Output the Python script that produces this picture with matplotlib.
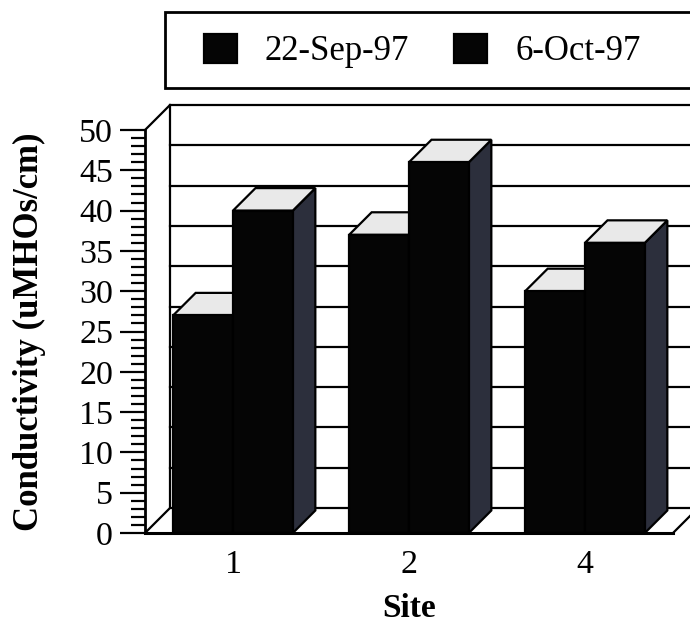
import numpy as np
import matplotlib
matplotlib.use("Agg")
import matplotlib.pyplot as plt
from matplotlib.patches import Rectangle, Polygon

plt.rcParams['font.family'] = ['Liberation Serif', 'DejaVu Serif']

sites = ["1", "2", "4"]
series_names = ["22-Sep-97", "6-Oct-97"]
sep_22 = [27, 37, 30]
oct_6 = [40, 46, 36]

W, H, DPI = 690, 627, 100
fig = plt.figure(figsize=(W / DPI, H / DPI), dpi=DPI)
# front plane of the 3d box, in pixels
left_px, right_px, bottom_px, top_px = 145, 673, 533, 130
ax = fig.add_axes([left_px / W, 1 - bottom_px / H,
                   (right_px - left_px) / W, (bottom_px - top_px) / H])
ax.set_xlim(-0.5, 2.5)
ax.set_ylim(0, 50)

# depth of the box converted to data units
depth_px = 25
dx = depth_px / ((right_px - left_px) / 3)
dy = depth_px / ((bottom_px - top_px) / 50)
x0, x1 = -0.5, 2.5

lw = 1.6
# back wall, floor and side wall outline
ax.add_patch(Rectangle((x0 + dx, dy), x1 - x0, 50, facecolor="white",
                       edgecolor="black", lw=lw, clip_on=False, zorder=1))
for v in range(5, 50, 5):
    ax.plot([x0 + dx, x1 + dx], [v + dy, v + dy], color="black", lw=lw,
            clip_on=False, zorder=1)
ax.plot([x0, x0 + dx], [50, 50 + dy], color="black", lw=lw, clip_on=False, zorder=1)
ax.plot([x0, x0 + dx], [0, dy], color="black", lw=lw, clip_on=False, zorder=1)
ax.plot([x1, x1 + dx], [0, dy], color="black", lw=lw, clip_on=False, zorder=1)
ax.plot([x0, x1], [0, 0], color="black", lw=lw + 0.6, clip_on=False, zorder=6)

# 3d columns
bar_w = 0.34
bdx, bdy = dx * 0.9, dy * 0.9
front_col = "#050505"
top_col = "#e9e9e9"
side_col = "#2c2f3c"
handles = []
for k, vals in enumerate([sep_22, oct_6]):
    for i, v in enumerate(vals):
        xl = i - bar_w + k * bar_w
        xr = xl + bar_w
        side = Polygon([(xr, 0), (xr + bdx, bdy), (xr + bdx, v + bdy), (xr, v)],
                       closed=True, facecolor=side_col, edgecolor="black",
                       lw=lw, clip_on=False, zorder=3 + k)
        top = Polygon([(xl, v), (xr, v), (xr + bdx, v + bdy), (xl + bdx, v + bdy)],
                      closed=True, facecolor=top_col, edgecolor="black",
                      lw=lw, clip_on=False, zorder=3 + k)
        ax.add_patch(side)
        ax.add_patch(top)
    bars = ax.bar(np.arange(3) - bar_w / 2 + k * bar_w, vals, width=bar_w,
                  color=front_col, edgecolor="black", lw=lw, zorder=3 + k,
                  label=series_names[k], clip_on=False)
    handles.append(bars)

# axes
for s in ["top", "right", "bottom"]:
    ax.spines[s].set_visible(False)
ax.spines["left"].set_linewidth(lw + 0.4)
ax.spines["left"].set_zorder(7)
ax.set_yticks(range(0, 51, 5))
ax.set_yticks(range(0, 51, 1), minor=True)
ax.tick_params(axis="y", which="major", length=18, width=lw, direction="out",
               labelsize=24.5, pad=5)
ax.tick_params(axis="y", which="minor", length=10, width=lw, direction="out")
ax.set_xticks(range(3))
ax.set_xticklabels(sites)
ax.tick_params(axis="x", length=0, labelsize=24.5, pad=12)
ax.set_facecolor("none")

ax.set_xlabel("Site", fontsize=24, fontweight="bold", labelpad=9)
ax.set_ylabel("Conductivity (uMHOs/cm)", fontsize=25, fontweight="bold")
ax.yaxis.set_label_coords((46 - left_px) / (right_px - left_px), 0.5)

# legend box running off the right edge
fig.patches.append(Rectangle((165 / W, 1 - 88 / H), 560 / W, 76 / H,
                             transform=fig.transFigure, facecolor="white",
                             edgecolor="black", lw=2.0, zorder=0))
fig.legend(handles=handles, labels=series_names, loc="center left",
           bbox_to_anchor=(204 / W, 1 - 51 / H), ncol=2, frameon=False,
           fontsize=25, handlelength=0.95, handleheight=0.95,
           handletextpad=0.8, columnspacing=1.3, borderpad=0, borderaxespad=0)

fig.savefig("out.png", dpi=DPI)
